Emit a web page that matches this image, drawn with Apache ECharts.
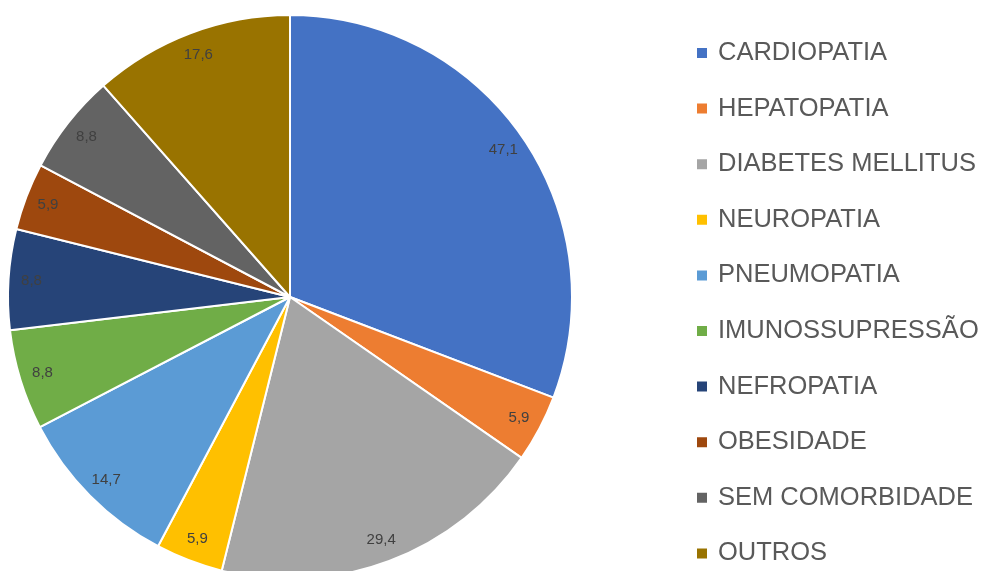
<!DOCTYPE html>
<html><head><meta charset="utf-8">
<script src="https://cdn.jsdelivr.net/npm/echarts@6/dist/echarts.min.js"></script>
<style>html,body{margin:0;padding:0;background:#fff}#c{width:997px;height:571px}</style>
</head><body><div id="c"></div>
<script>
const categories = ['CARDIOPATIA','HEPATOPATIA','DIABETES MELLITUS','NEUROPATIA','PNEUMOPATIA','IMUNOSSUPRESSÃO','NEFROPATIA','OBESIDADE','SEM COMORBIDADE','OUTROS'];
const values = [47.1, 5.9, 29.4, 5.9, 14.7, 8.8, 8.8, 5.9, 8.8, 17.6];
const colors = ['#4472C4','#ED7D31','#A5A5A5','#FFC000','#5B9BD5','#70AD47','#264478','#9E480E','#636363','#997300'];

const data = categories.map((n,i)=>({name:n, value:values[i]}));
const chart = echarts.init(document.getElementById('c'));
chart.setOption({
  animation:false,
  color: colors,
  legend:{
    orient:'vertical', left:695, top:40, padding:0,
    itemWidth:12, itemHeight:12, itemGap:29.6,
    icon:'rect',
    data: categories,
    textStyle:{fontFamily:'Liberation Sans', fontSize:25.5, lineHeight:26, color:'#595959', padding:[0,0,0,5]}
  },
  series:[
    {
      type:'pie', center:[290,297], radius:[0,282], startAngle:90, clockwise:true,
      silent:true,
      itemStyle:{borderColor:'#fff', borderWidth:2},
      label:{show:false}, labelLine:{show:false},
      data: data
    },
    {
      type:'pie', center:[290,297], radius:[230,282], startAngle:90, clockwise:true,
      silent:true, legendHoverLink:false,
      itemStyle:{color:'rgba(0,0,0,0)', borderWidth:0},
      label:{show:true, position:'inside', fontFamily:'Liberation Sans', fontSize:15, color:'#404040',
        formatter:p=>String(p.value).replace('.',',')},
      labelLine:{show:false},
      data: data
    }
  ]
});
</script></body></html>
